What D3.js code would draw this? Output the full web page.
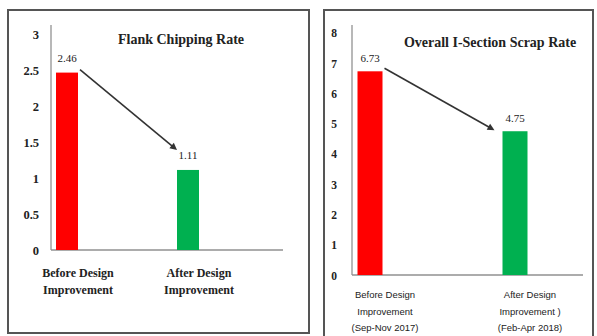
<!DOCTYPE html>
<html>
<head>
<meta charset="utf-8">
<script src="https://cdn.jsdelivr.net/npm/d3@7"></script>
<style>
  body { margin: 0; background: #fff; }
  svg { display: block; }
</style>
</head>
<body>
<svg id="chart" width="597" height="336"></svg>
<script>
// Flank chipping (left)
var flankCategories = [["Before Design", "Improvement"], ["After Design", "Improvement"]];
var flankValues = [2.46, 1.11];
var flankLabels = ["2.46", "1.11"];
var flankTicks = [0, 0.5, 1, 1.5, 2, 2.5, 3];

// Overall I-section scrap (right)
var scrapCategories = [["Before Design", "Improvement", "(Sep-Nov 2017)"], ["After Design", "Improvement )", "(Feb-Apr 2018)"]];
var scrapValues = [6.73, 4.75];
var scrapLabels = ["6.73", "4.75"];
var scrapTicks = [0, 1, 2, 3, 4, 5, 6, 7, 8];

var barColors = ["#ff0000", "#00b050"];

var svg = d3.select("#chart");

function drawPanel(opt) {
	// panel frame
	svg.append("rect")
		.attr("x", opt.frame[0]).attr("y", opt.frame[1])
		.attr("width", opt.frame[2]).attr("height", opt.frame[3])
		.attr("fill", "none").attr("stroke", "#555").attr("stroke-width", 2);

	var y = d3.scaleLinear().domain([0, opt.yMax]).range([opt.y0, opt.yTop]);
	var x = d3.scalePoint().domain(d3.range(opt.values.length)).range(opt.xCenters);

	var g = svg.append("g");

	// y axis: just tick labels and a light line
	var yAxis = d3.axisLeft(y).tickValues(opt.ticks).tickSize(0).tickPadding(0)
		.tickFormat(function(d) { return d3.format("")(d); });
	var ya = g.append("g")
		.attr("transform", "translate(" + opt.tickX + ",0)")
		.call(yAxis);
	ya.select(".domain").remove();
	ya.selectAll("text")
		.attr("font-family", "Liberation Serif")
		.attr("font-weight", "bold")
		.attr("font-size", opt.tickSize)
		.attr("fill", "#222")
		.attr("dy", "0.35em");

	g.append("line")
		.attr("x1", opt.axisX).attr("x2", opt.axisX)
		.attr("y1", y(0)).attr("y2", y(opt.yMax))
		.attr("stroke", "#a0a0a0").attr("stroke-width", 1.5);
	g.append("line")
		.attr("x1", opt.axisX).attr("x2", opt.axisRight)
		.attr("y1", y(0)).attr("y2", y(0))
		.attr("stroke", "#909090").attr("stroke-width", 1.5);

	// bars
	g.selectAll(".bar").data(opt.values).enter().append("rect")
		.attr("x", function(d, i) { return x(i) - opt.barW / 2; })
		.attr("y", function(d) { return y(d); })
		.attr("width", opt.barW)
		.attr("height", function(d) { return y(0) - y(d); })
		.attr("fill", function(d, i) { return barColors[i]; });

	// value labels
	g.selectAll(".val").data(opt.values).enter().append("text")
		.attr("x", function(d, i) { return x(i) + opt.valDx; })
		.attr("y", function(d) { return y(d) - opt.valDy; })
		.attr("text-anchor", "middle")
		.attr("font-family", "Liberation Serif")
		.attr("font-size", 11)
		.attr("fill", "#222")
		.text(function(d, i) { return opt.labels[i]; });

	// arrow from first bar to second
	var x1 = x(0) + opt.barW / 2 + 2, y1 = y(opt.values[0]) - 3;
	var x2 = x(1) - opt.barW / 2 + opt.arrowEnd[0], y2 = y(opt.values[1]) + opt.arrowEnd[1];
	var ang = Math.atan2(y2 - y1, x2 - x1);
	g.append("line")
		.attr("x1", x1).attr("y1", y1).attr("x2", x2 - 5 * Math.cos(ang)).attr("y2", y2 - 5 * Math.sin(ang))
		.attr("stroke", "#333").attr("stroke-width", 1.6);
	var hl = 7, hw = 3.5;
	var bx = x2 - hl * Math.cos(ang), by = y2 - hl * Math.sin(ang);
	g.append("path")
		.attr("d", "M" + x2 + "," + y2 +
			"L" + (bx + hw * Math.sin(ang)) + "," + (by - hw * Math.cos(ang)) +
			"L" + (bx - hw * Math.sin(ang)) + "," + (by + hw * Math.cos(ang)) + "Z")
		.attr("fill", "#333");

	// title
	g.append("text")
		.attr("x", opt.title[1]).attr("y", opt.title[2])
		.attr("text-anchor", "middle")
		.attr("font-family", "Liberation Serif")
		.attr("font-weight", "bold")
		.attr("font-size", 14)
		.attr("fill", "#222")
		.text(opt.title[0]);

	// category labels
	opt.categories.forEach(function(lines, i) {
		var t = g.append("text")
			.attr("text-anchor", "middle")
			.attr("font-family", opt.catFont)
			.attr("font-weight", opt.catWeight)
			.attr("font-size", opt.catSize)
			.attr("fill", "#222");
		lines.forEach(function(s, j) {
			t.append("tspan")
				.attr("x", x(i) + opt.catDx)
				.attr("y", y(0) + opt.catY + j * opt.catLine)
				.text(s);
		});
	});
}

drawPanel({
	frame: [8, 10, 301, 323],
	values: flankValues, labels: flankLabels, ticks: flankTicks, categories: flankCategories,
	yMax: 3.12, y0: 250, yTop: 25,
	xCenters: [67, 188], barW: 22,
	axisX: 51, axisRight: 283, tickX: 39, tickSize: 12.5,
	valDx: 0, valDy: 11, arrowEnd: [0, -20],
	title: ["Flank Chipping Rate", 181, 44],
	catFont: "Liberation Serif", catWeight: "bold", catSize: 12, catDx: 11, catY: 27, catLine: 17
});

drawPanel({
	frame: [324, 10, 269, 340],
	values: scrapValues, labels: scrapLabels, ticks: scrapTicks, categories: scrapCategories,
	yMax: 8.26, y0: 275, yTop: 25,
	xCenters: [370, 515], barW: 25,
	axisX: 352, axisRight: 583, tickX: 337, tickSize: 11.5,
	valDx: 0, valDy: 9, arrowEnd: [-8, -1],
	title: ["Overall I-Section Scrap Rate", 490, 47],
	catFont: "Liberation Sans", catWeight: "normal", catSize: 9.5, catDx: 15, catY: 23, catLine: 16.5
});
</script>
</body>
</html>
